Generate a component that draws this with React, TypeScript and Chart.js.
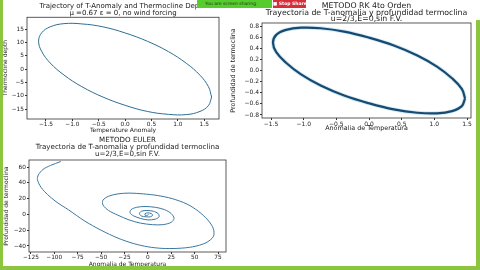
import React, { useEffect, useRef } from "react";
import { Chart, registerables } from "chart.js";

Chart.register(...registerables);

// ---------- data ----------
// Top-left: Trajectory of T-Anomaly and Thermocline Depth
const tlTemp = [1.64, 1.58, 1.42, 1.16, 0.82, 0.42, 0, -0.42, -0.82, -1.16, -1.42, -1.58, -1.64, -1.58, -1.42, -1.16, -0.82, -0.42, 0, 0.42, 0.82, 1.16, 1.42, 1.58, 1.64];
const tlDepth = [-10.5, -13.7, -15.9, -17.1, -17.0, -15.9, -13.6, -10.5, -6.6, -2.2, 2.3, 6.6, 10.5, 13.7, 15.9, 17.1, 17.0, 15.9, 13.6, 10.5, 6.6, 2.2, -2.3, -6.6, -10.5];
const tlXTicks = [-1.5, -1, -0.5, 0, 0.5, 1, 1.5];
const tlYTicks = [-15, -10, -5, 0, 5, 10, 15];

// Top-right: METODO RK 4to Orden
const rkTemp = [1.47, 1.42, 1.27, 1.04, 0.74, 0.38, 0, -0.38, -0.74, -1.04, -1.27, -1.42, -1.47, -1.42, -1.27, -1.04, -0.74, -0.38, 0, 0.38, 0.74, 1.04, 1.27, 1.42, 1.47];
const rkDepth = [-0.5, -0.64, -0.73, -0.77, -0.76, -0.7, -0.59, -0.45, -0.27, -0.07, 0.14, 0.33, 0.5, 0.64, 0.73, 0.77, 0.76, 0.7, 0.59, 0.45, 0.27, 0.07, -0.14, -0.33, -0.5];
const rkXTicks = [-1.5, -1, -0.5, 0, 0.5, 1, 1.5];
const rkYTicks = [-0.8, -0.6, -0.4, -0.2, 0, 0.2, 0.4, 0.6, 0.8];

// Bottom-left: METODO EULER
const euTemp = [-93, -104, -112, -117, -118, -114, -107, -98, -85, -68, -50, -32, -15, 0, 15, 32, 48, 62, 70, 70, 64, 54, 42, 26, 10, -5, -20, -32, -42, -48, -48, -42, -32, -20, -8, 5, 16, 25, 28, 25, 18, 8, -3, -12, -18, -19, -15, -8, 0, 8, 12, 11, 6, -1, -7, -9, -7, -2, 3, 5, 4, 0, -3, -3, 0, 1];
const euDepth = [67, 62, 57, 50, 44, 34, 25, 16, 6, -8, -20, -30, -37, -41, -43, -43, -41, -36, -28, -18, -7, 4, 13, 20, 24, 26, 27, 26, 23, 18, 12, 5, -1, -7, -11, -13, -13, -10, -5, 1, 6, 9, 10, 9, 6, 2, -2, -5, -7, -6, -3, 1, 4, 5, 4, 1, -2, -3, -3, -1, 1, 2, 1, -1, -1, 0];
const euXTicks = [-125, -100, -75, -50, -25, 0, 25, 50, 75];
const euYTicks = [-40, -20, 0, 20, 40, 60];

const tlTitle = ["Trajectory of T-Anomaly and Thermocline Depth", "\u03bc =0.67 \u03b5 = 0, no wind forcing"];
const rkTitle = ["METODO RK 4to Orden", "Trayectoria de T-anomalia y profundidad termoclina", "u=2/3,E=0,sin F.V."];
const euTitle = ["METODO EULER", "Trayectoria de T-anomalia y profundidad termoclina", "u=2/3,E=0,sin F.V."];

// ---------- helpers ----------
const FONT = "'DejaVu Sans', sans-serif";
const TXT = "#1a1a1a";

const pts = (xs: number[], ys: number[]) => xs.map((x, i) => ({ x, y: ys[i] }));
const fmt = (d: number) => (v: number) => {
  const s = Math.abs(v).toFixed(d);
  return v < -1e-9 ? "\u2212" + s : s;
};

const framePlugin = {
  id: "frame",
  afterDraw(chart: any) {
    const { ctx, chartArea: a } = chart;
    ctx.save();
    ctx.strokeStyle = "#333";
    ctx.lineWidth = 0.8;
    ctx.strokeRect(a.left, a.top, a.right - a.left, a.bottom - a.top);
    ctx.restore();
  },
};

type Spec = {
  left: number; top: number; w: number; h: number;
  padRight: number; yWidth: number; xHeight: number;
  title: string[]; titleSize: number; titleLH: number; titlePadTop: number; titlePadBottom: number;
  tickSize: number; axSize: number;
  xTitle: string; yTitle: string; yTitlePad: number; xTitlePad: number;
  xMin: number; xMax: number; yMin: number; yMax: number;
  xTicks: number[]; yTicks: number[]; xFmt: (v: number) => string; yFmt: (v: number) => string;
  datasets: any[];
};

function Plot({ spec }: { spec: Spec }) {
  const ref = useRef<HTMLCanvasElement>(null);
  useEffect(() => {
    if (!ref.current) return;
    const tickFont = { family: FONT, size: spec.tickSize };
    const axTitleFont = { family: FONT, size: spec.axSize, lineHeight: 1 };
    const grid = { display: true, drawOnChartArea: false, drawTicks: true, tickLength: 2, color: "#333" };
    const chart = new Chart(ref.current, {
      type: "scatter",
      data: { datasets: spec.datasets },
      plugins: [framePlugin],
      options: {
        animation: false,
        responsive: false,
        maintainAspectRatio: false,
        events: [],
        layout: { padding: { left: 0, right: spec.padRight, top: 0, bottom: 0 } },
        plugins: {
          legend: { display: false },
          tooltip: { enabled: false },
          title: {
            display: true,
            fullSize: false,
            text: spec.title,
            color: TXT,
            font: { family: FONT, size: spec.titleSize, weight: "normal", lineHeight: spec.titleLH },
            padding: { top: spec.titlePadTop, bottom: spec.titlePadBottom },
          },
        },
        scales: {
          x: {
            type: "linear",
            min: spec.xMin,
            max: spec.xMax,
            afterBuildTicks: (s: any) => { s.ticks = spec.xTicks.map((v) => ({ value: v })); },
            afterFit: (s: any) => { s.height = spec.xHeight; },
            ticks: { autoSkip: false, maxRotation: 0, padding: 0.5, font: tickFont, color: TXT, callback: (v: any) => spec.xFmt(Number(v)) },
            grid,
            border: { display: false },
            title: { display: true, text: spec.xTitle, color: TXT, font: axTitleFont, padding: { top: 0, bottom: spec.xTitlePad } },
          },
          y: {
            type: "linear",
            min: spec.yMin,
            max: spec.yMax,
            afterBuildTicks: (s: any) => { s.ticks = spec.yTicks.map((v) => ({ value: v })); },
            afterFit: (s: any) => { s.width = spec.yWidth; },
            ticks: { autoSkip: false, padding: 1, font: tickFont, color: TXT, callback: (v: any) => spec.yFmt(Number(v)) },
            grid,
            border: { display: false },
            title: { display: true, text: spec.yTitle, color: TXT, font: axTitleFont, padding: { top: spec.yTitlePad, bottom: 0 } },
          },
        },
      } as any,
    });
    return () => chart.destroy();
  }, []);
  return (
    <canvas
      ref={ref}
      width={spec.w}
      height={spec.h}
      style={{ position: "absolute", left: spec.left, top: spec.top, width: spec.w, height: spec.h }}
    />
  );
}

const lineDs = (data: any[], color: string, width: number, tension: number) => ({
  data,
  showLine: true,
  fill: false,
  borderColor: color,
  borderWidth: width,
  pointRadius: 0,
  tension,
});

const specs: Spec[] = [
  {
    left: 0, top: 0, w: 240, h: 135, padRight: 21, yWidth: 27, xHeight: 16,
    title: tlTitle, titleSize: 7, titleLH: 1.04, titlePadTop: 2.7, titlePadBottom: 0,
    tickSize: 5.8, axSize: 6,
    xTitle: "Temperature Anomaly", yTitle: "Thermocline depth", yTitlePad: 2, xTitlePad: 2,
    xMin: -1.86, xMax: 1.78, yMin: -18.75, yMax: 19.5,
    xTicks: tlXTicks, yTicks: tlYTicks, xFmt: fmt(1), yFmt: fmt(0),
    datasets: [lineDs(pts(tlTemp, tlDepth), "#2d6e94", 1, 0.4)],
  },
  {
    left: 226, top: 0, w: 254, h: 135, padRight: 9, yWidth: 36, xHeight: 17,
    title: rkTitle, titleSize: 7.8, titleLH: 0.846, titlePadTop: 2.8, titlePadBottom: 0.4,
    tickSize: 6, axSize: 6.4,
    xTitle: "Anomalia de Temperatura", yTitle: "Profundidad de termoclina", yTitlePad: 4, xTitlePad: 3.3,
    xMin: -1.638, xMax: 1.561, yMin: -0.854, yMax: 0.854,
    xTicks: rkXTicks, yTicks: rkYTicks, xFmt: fmt(1), yFmt: fmt(1),
    datasets: [
      lineDs(pts(rkTemp, rkDepth), "#174a70", 2.2, 0.4),
      lineDs(pts(rkTemp, rkDepth), "rgba(165,212,236,0.5)", 4, 0.4),
    ],
  },
  {
    left: 0, top: 135, w: 240, h: 135, padRight: 14, yWidth: 29, xHeight: 18,
    title: euTitle, titleSize: 7.1, titleLH: 0.986, titlePadTop: 1.5, titlePadBottom: 2.5,
    tickSize: 5.8, axSize: 6,
    xTitle: "Anomalia de Temperatura", yTitle: "Profundidad de termoclina", yTitlePad: 3, xTitlePad: 3,
    xMin: -127, xMax: 83.5, yMin: -47.6, yMax: 68.9,
    xTicks: euXTicks, yTicks: euYTicks, xFmt: fmt(0), yFmt: fmt(0),
    datasets: [lineDs(pts(euTemp, euDepth), "#3a77a0", 1, 0.3)],
  },
];

export default function App() {
  useEffect(() => {
    document.body.style.margin = "0";
  }, []);
  const green = "#8cc63e";
  return (
    <div style={{ position: "fixed", left: 0, top: 0, width: 480, height: 270, background: "#ffffff", overflow: "hidden", fontFamily: FONT }}>
      {specs.map((s, i) => (
        <Plot key={i} spec={s} />
      ))}
      {/* screen-share toolbar overlay */}
      <div style={{ position: "absolute", left: 197, top: 0, width: 75, height: 8, background: "#56cc2e", color: "#1d3b10", fontSize: 4.5, lineHeight: "8px", paddingLeft: 8, boxSizing: "border-box", whiteSpace: "nowrap", overflow: "hidden" }}>
        You are screen sharing
      </div>
      <div style={{ position: "absolute", left: 273, top: 0, width: 33, height: 8, background: "#d42f3a", color: "#ffffff", fontSize: 4.5, lineHeight: "8px", textAlign: "center", whiteSpace: "nowrap", overflow: "hidden", fontWeight: "bold" }}>
        ■ Stop Share
      </div>
      {/* green frame */}
      <div style={{ position: "absolute", left: 0, top: 0, width: 3, height: 270, background: green }} />
      <div style={{ position: "absolute", left: 0, top: 266, width: 480, height: 4, background: green }} />
      <div style={{ position: "absolute", left: 476, top: 20, width: 4, height: 250, background: green }} />
    </div>
  );
}
